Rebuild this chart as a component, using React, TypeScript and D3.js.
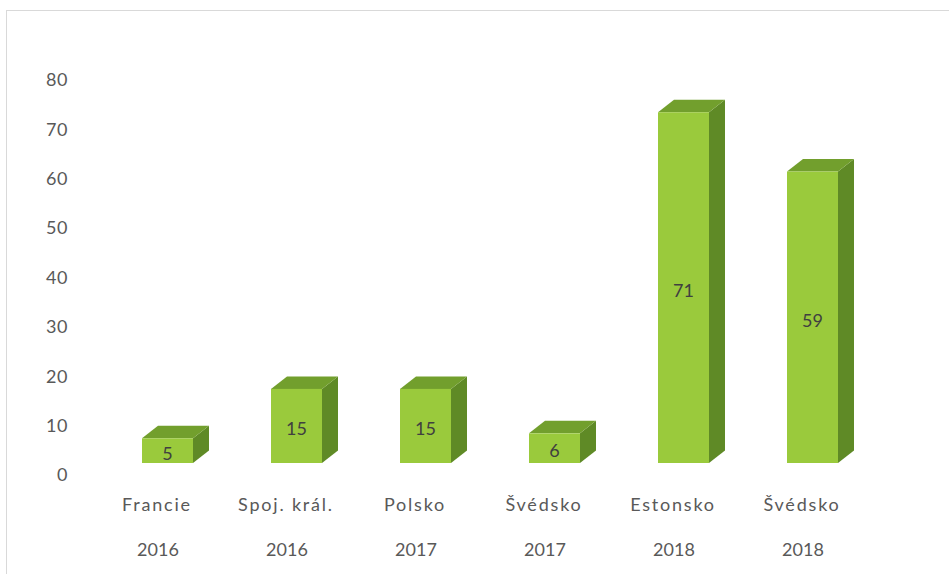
import React from "react";
import * as d3 from "d3";

const countries = ["Francie", "Spoj. král.", "Polsko", "Švédsko", "Estonsko", "Švédsko"];
const years = ["2016", "2016", "2017", "2017", "2018", "2018"];
const values = [5, 15, 15, 6, 71, 59];
const yTicks = [0, 10, 20, 30, 40, 50, 60, 70, 80];

const W = 949;
const H = 574;
const FONT = "Lato, 'Open Sans', sans-serif";

export default function App() {
  const ids = countries.map((_, i) => String(i));
  const x = d3.scaleBand<string>().domain(ids).range([91.5, 865.5]).padding(0);
  // bar front face scale
  const yBar = d3.scaleLinear().domain([0, 80]).range([463, 463 - 80 * 4.94]);
  // axis label scale (back wall)
  const yAxis = d3.scaleLinear().domain([0, 80]).range([475, 475 - 80 * 4.94]);
  const depthX = 16;
  const depthY = -12.5;
  const frontW = 51;
  const frontOff = -14;

  return (
    <div style={{ position: "fixed", left: 0, top: 0 }}>
      <svg width={W} height={H} style={{ display: "block", background: "#fff" }}>
        <rect x={6.5} y={10.5} width={W + 10} height={H + 10} fill="#fff" stroke="#d9d9d9" strokeWidth={1} />
        {yTicks.map((t) => (
          <text key={t} x={68} y={yAxis(t)} dy="0.35em" textAnchor="end" fontFamily={FONT} fontSize={18} letterSpacing={0.5} fill="#595959">
            {t}
          </text>
        ))}
        {values.map((v, i) => {
          const c = (x(ids[i]) as number) + x.bandwidth() / 2;
          const x0 = c + frontOff;
          const x1 = x0 + frontW;
          const yt = yBar(v);
          const yb = yBar(0);
          const top = `M${x0},${yt} L${x0 + depthX},${yt + depthY} L${x1 + depthX},${yt + depthY} L${x1},${yt} Z`;
          const side = `M${x1},${yt} L${x1 + depthX},${yt + depthY} L${x1 + depthX},${yb + depthY} L${x1},${yb} Z`;
          return (
            <g key={i}>
              <path d={side} fill="#5f8a26" />
              <path d={top} fill="#729f2d" />
              <rect x={x0} y={yt} width={frontW} height={yb - yt} fill="#9aca3c" />
              <text x={(x0 + x1) / 2} y={(yt + yb) / 2 + 3} dy="0.35em" textAnchor="middle" fontFamily={FONT} fontSize={18} fill="#404040">
                {v}
              </text>
            </g>
          );
        })}
        {countries.map((cn, i) => {
          const c = (x(ids[i]) as number) + x.bandwidth() / 2;
          return (
            <g key={"l" + i}>
              <text x={c + 1} y={505} dy="0.35em" textAnchor="middle" fontFamily={FONT} fontSize={18} letterSpacing={1.8} fill="#595959">
                {cn}
              </text>
              <text x={c + 2} y={550} dy="0.35em" textAnchor="middle" fontFamily={FONT} fontSize={18} fill="#595959">
                {years[i]}
              </text>
            </g>
          );
        })}
      </svg>
    </div>
  );
}
